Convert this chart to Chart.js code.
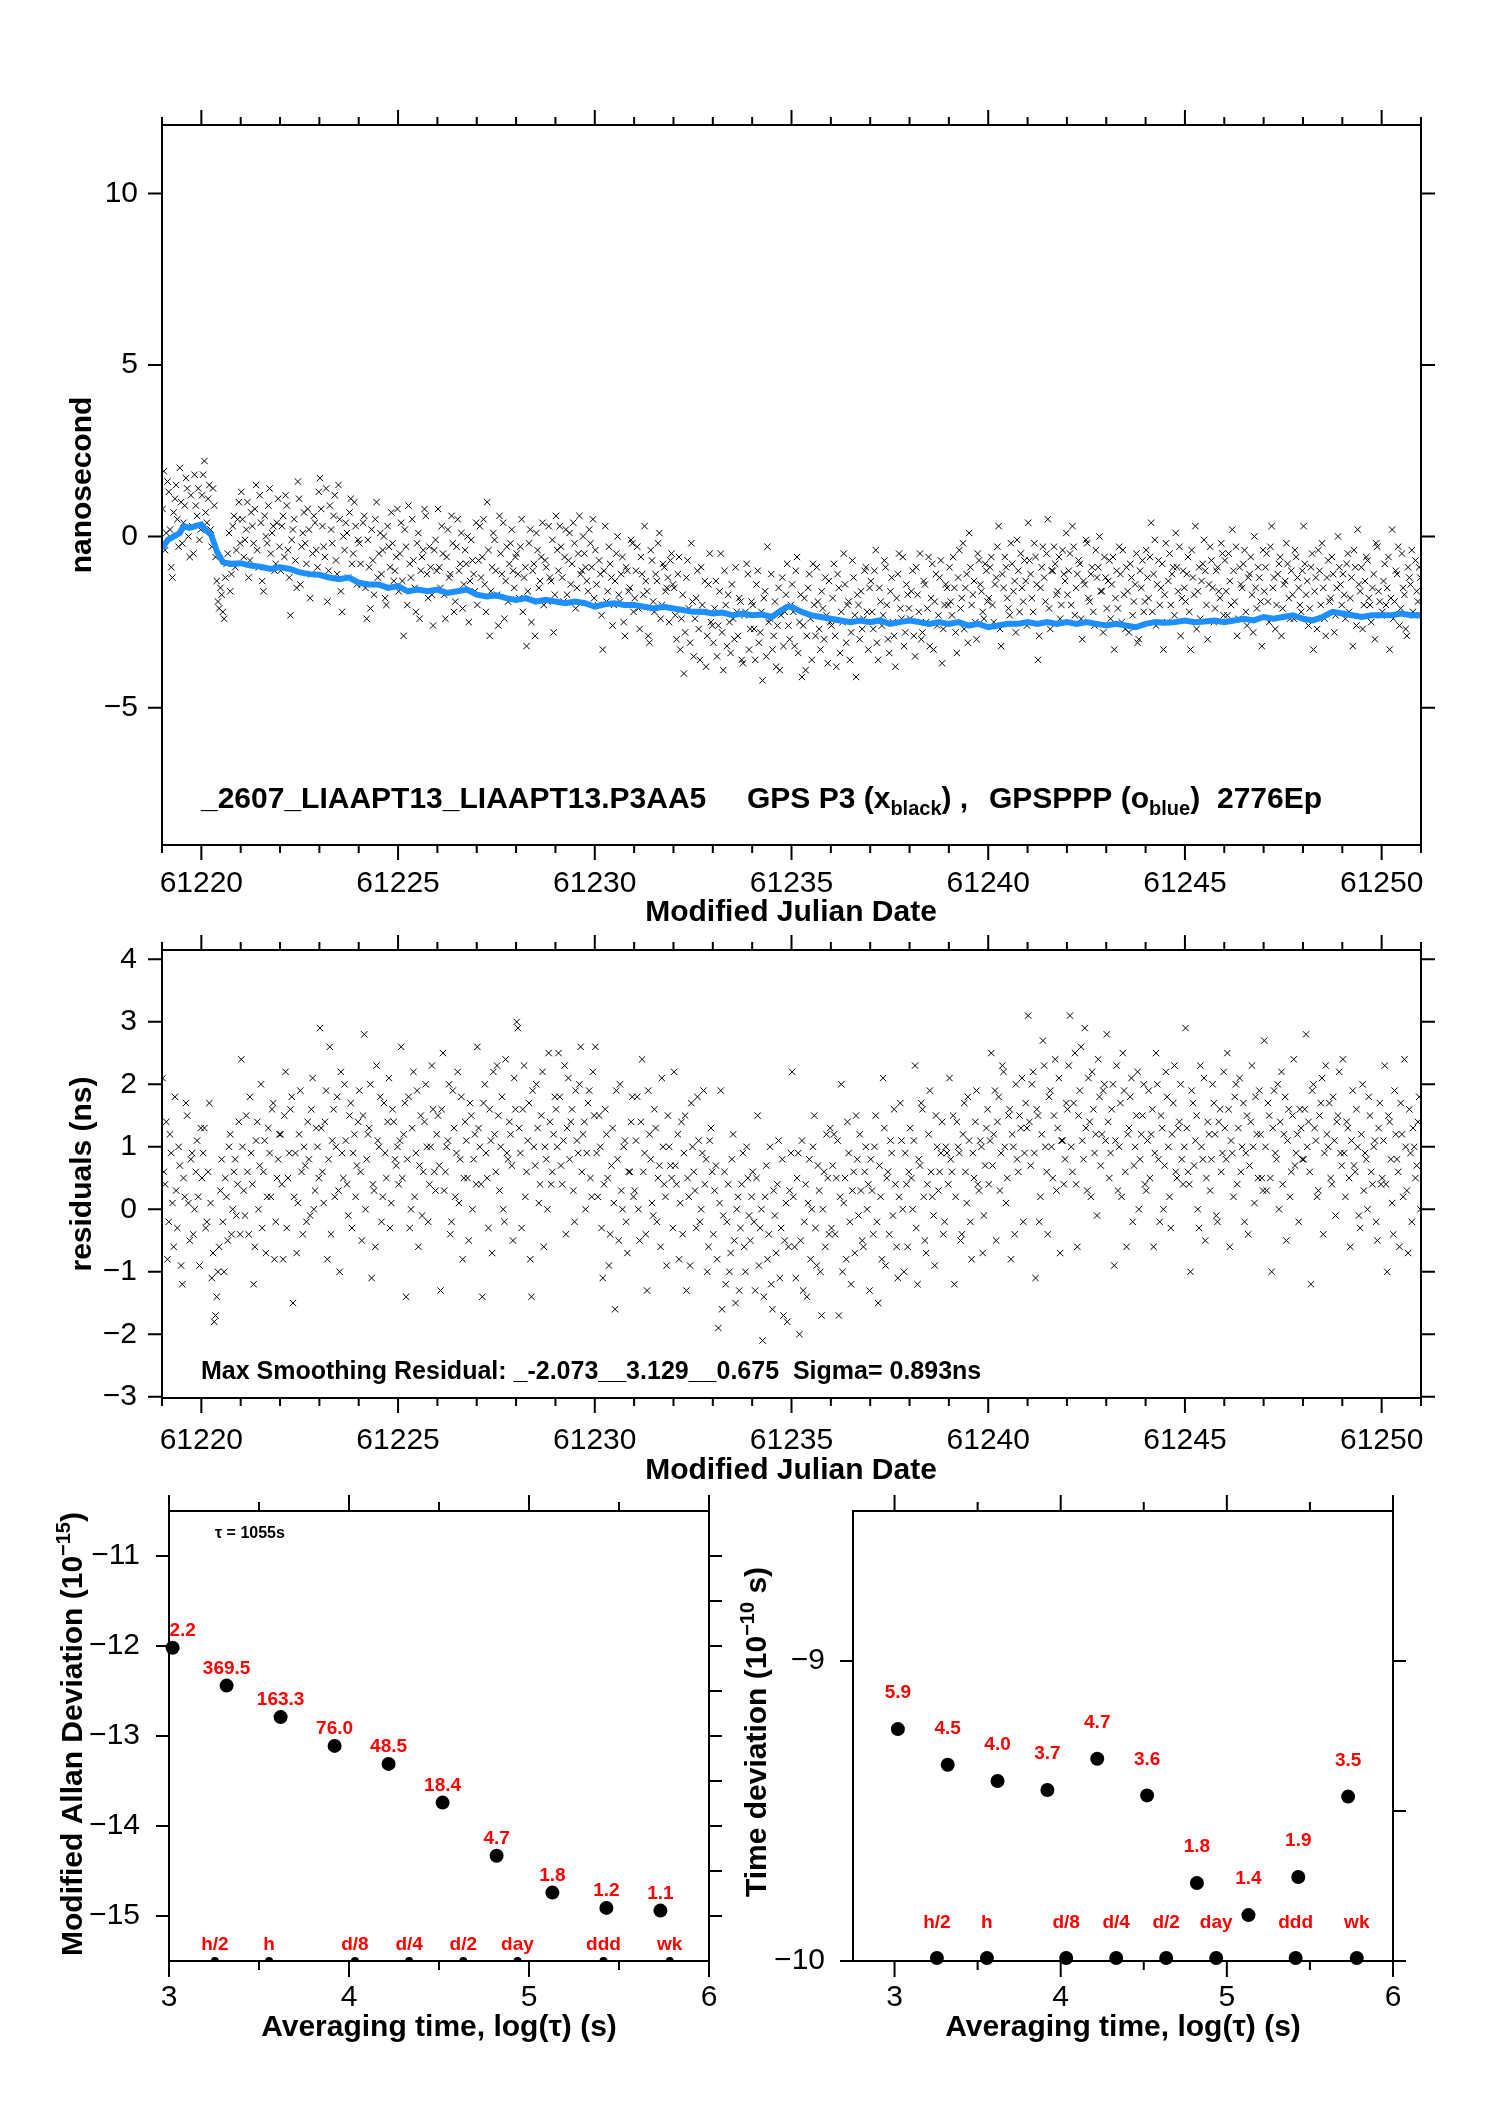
<!DOCTYPE html>
<html>
<head>
<meta charset="utf-8">
<title>GPS P3 vs GPSPPP</title>
<script src="https://cdn.jsdelivr.net/npm/chart.js@4.4.1/dist/chart.umd.min.js"></script>
<style>
  body { margin: 0; background: #fff; width: 1488px; height: 2105px; position: relative; overflow: hidden; }
  canvas { position: absolute; }
</style>
</head>
<body>
<canvas id="top"></canvas>
<canvas id="resid"></canvas>
<canvas id="adev"></canvas>
<canvas id="tdev"></canvas>
<script>
// ---- data ----
const mjdStart = 61219;
const perDay = 32; // epochs kept per day (sub-sample of the 2776 epochs)

// GPS P3 (black x), ns, one row per day from 61219
const gpsP3 = [
  0.8,1.9,-0.4,0.1,1.6,1.3,0.2,-0.9,-1.2,0.7,1.1,1.5,0.5,-0.3,2.0,1.0,-0.2,0.4,0.9,1.7,1.4,0.0,-0.6,1.2,0.3,-0.5,1.8,0.9,0.6,1.4,-0.1,0.2,
  1.2,1.8,2.2,0.7,0.4,1.1,1.5,0.2,-0.3,1.4,0.9,-0.6,-1.3,-1.9,-2.1,-1.5,-1.7,-2.2,-2.4,-1.2,-0.8,-0.5,0.1,-1.6,-1.1,0.3,0.6,-0.9,-0.4,0.5,1.0,-0.2,
  1.3,0.5,-0.6,-0.1,0.2,1.0,-1.2,-0.7,0.7,0.3,-0.2,0.8,1.5,-0.4,-0.9,1.2,0.4,-1.3,-1.6,0.6,0.0,-0.2,0.9,1.4,-0.5,0.1,0.3,-1.0,-0.8,0.4,1.1,-0.3,
  -1.0,0.3,0.6,-0.6,1.2,0.9,-0.4,-1.2,-2.3,-0.1,0.2,0.5,-0.7,-1.5,1.6,1.1,-1.4,-0.3,0.1,0.7,-0.2,-0.8,0.8,0.2,-1.8,-1.1,-0.5,0.6,0.4,-0.4,-0.9,1.3,
  1.7,0.8,0.3,-0.3,-0.6,1.4,-1.9,-1.0,0.9,0.2,-0.2,0.6,1.2,-0.7,-1.1,1.5,0.5,-1.6,-2.2,0.0,-0.4,0.4,0.1,-1.2,0.7,1.1,-0.8,-0.5,1.0,0.3,-1.4,-0.1,
  -0.2,-0.8,-1.4,0.4,0.6,-1.5,-2.4,-0.1,-0.9,-2.1,0.2,-0.7,-1.7,0.5,1.0,-1.2,-0.5,0.1,-1.1,-0.4,0.0,-1.8,-2.0,0.3,-0.3,-0.9,0.7,-0.2,-1.3,-1.0,-0.6,0.8,
  -1.6,-0.5,0.4,-1.3,-2.9,0.2,-0.3,-2.0,0.9,-0.8,-1.2,0.5,-0.7,-1.5,-2.2,-0.2,0.1,-2.4,-1.0,-0.6,-0.4,0.8,0.6,-1.1,-1.8,-0.3,-0.9,-1.7,-2.6,-0.4,-0.1,-1.0,
  0.8,-0.9,-1.5,0.3,-0.5,-1.7,-2.4,-0.6,0.2,-1.2,-1.1,0.6,-0.2,-2.2,-1.9,-0.3,0.5,-1.0,-0.8,0.1,-2.1,-1.4,-0.4,-0.8,0.0,-2.5,-1.3,-0.1,-0.7,-1.1,-1.6,0.4,
  -2.0,-0.7,0.3,-1.2,-0.6,0.5,-1.4,-2.2,1.0,-0.4,-2.9,-1.6,-0.9,0.1,-0.1,-1.0,-1.7,-2.6,0.6,-0.5,-1.1,0.4,-2.4,-1.3,-0.3,-1.9,-0.8,-0.2,0.2,-1.0,-1.5,-0.6,
  -0.5,-1.1,-1.8,-0.3,0.5,-2.2,-1.2,-0.9,-3.2,-1.6,-0.2,0.2,-2.5,-1.0,-0.8,-2.9,0.1,-0.4,-1.5,-1.3,-0.6,0.4,-2.0,-0.7,-0.9,-1.9,0.3,-1.2,-1.3,-0.1,-2.8,-1.7,
  0.6,-0.4,-1.0,0.3,-0.3,-1.2,-1.9,-0.6,0.2,-1.7,-0.7,0.1,-1.4,-0.8,0.4,-0.2,-2.1,-1.5,-0.5,0.6,-1.1,-1.0,0.0,-0.5,-0.9,-1.3,-1.6,0.2,-0.2,-0.9,0.5,-1.8,
  -0.4,-1.4,-2.0,-0.7,-1.1,-2.3,-3.3,-1.0,0.3,-1.9,-1.6,-0.3,-0.8,-1.2,-2.6,-2.0,-1.3,-0.5,0.0,-1.7,-1.9,-1.1,-0.6,-2.5,-2.9,-0.9,-1.0,-1.6,-1.5,-0.1,-0.2,-2.2,
  -1.8,-1.0,-0.3,-2.1,-2.7,-0.6,-1.1,-1.7,0.3,-1.3,-1.6,-2.9,-3.1,-0.4,-0.7,-1.9,-2.2,-1.1,-1.3,-0.2,0.1,-2.4,-2.0,-0.8,-0.9,-1.6,-1.5,-1.2,-2.5,-0.7,-0.5,-1.4,
  -1.5,-2.3,-3.0,-1.1,-0.6,-3.3,-2.4,-1.7,-4.0,-2.8,-1.2,-0.7,-2.1,-3.1,-0.2,-1.9,-3.5,-2.4,-1.8,-1.0,-2.7,-3.6,-0.9,-2.0,-2.2,-1.3,-3.8,-2.9,-1.4,-0.5,-2.5,-2.6,
  -3.1,-2.1,-1.3,-3.5,-2.6,-1.6,-0.5,-2.8,-3.9,-1.0,-2.0,-3.2,-1.7,-2.5,-3.4,-1.4,-2.4,-3.0,-0.9,-2.2,-2.9,-1.8,-1.9,-3.6,-3.7,-2.3,-2.2,-0.8,-1.1,-3.3,-2.7,-1.9,
  -2.0,-2.7,-3.6,-1.4,-1.0,-3.1,-2.8,-2.2,-4.2,-1.8,-1.6,-3.5,-0.3,-2.5,-2.4,-1.1,-3.3,-2.9,-1.9,-3.8,-2.6,-1.5,-3.9,-2.3,-1.2,-3.2,-2.2,-1.7,-0.8,-2.6,-3.0,-2.0,
  -1.4,-2.2,-3.2,-1.0,-0.6,-3.4,-2.5,-1.7,-4.1,-2.6,-1.8,-3.9,-2.9,-1.5,-1.1,-2.4,-3.6,-0.8,-2.0,-2.9,-0.9,-1.9,-2.7,-3.3,-1.6,-2.1,-3.0,-1.2,-2.3,-3.7,-1.3,-2.5,
  -2.6,-1.8,-0.8,-2.9,-3.8,-1.1,-1.5,-3.4,-2.2,-2.5,-0.5,-1.4,-3.1,-2.0,-1.9,-3.6,-2.8,-0.7,-1.2,-2.3,-4.1,-1.7,-2.0,-3.0,-1.6,-2.7,-2.4,-1.0,-0.9,-2.2,-3.3,-1.5,
  -1.3,-2.2,-2.7,-1.0,-0.4,-3.1,-3.6,-1.5,-1.9,-2.6,-2.3,-0.7,-0.9,-2.0,-3.0,-3.4,-1.6,-1.2,-2.5,-2.9,-3.8,-1.8,-1.1,-0.5,-2.1,-2.4,-0.6,-3.2,-2.8,-1.4,-1.7,-2.1,
  -2.4,-1.6,-1.0,-2.9,-3.5,-0.9,-1.7,-2.2,-0.5,-3.0,-2.8,-1.3,-1.4,-2.5,-2.1,-0.6,-3.2,-1.8,-0.8,-3.3,-1.9,-1.1,-2.6,-2.3,-1.2,-0.7,-3.7,-2.7,-2.0,-1.4,-1.5,-2.0,
  -0.9,-1.9,-2.3,-0.6,-1.5,-2.8,-3.4,-1.2,-0.4,-2.1,-1.8,-0.2,-2.7,-1.5,-1.1,-3.1,0.1,-0.9,-2.0,-1.7,-1.3,-2.5,-3.0,-0.5,-0.7,-1.4,-1.6,-2.2,-2.4,-0.8,-1.0,-1.9,
  -1.8,-0.9,-0.6,-2.0,-2.5,-1.4,-1.2,-0.3,0.3,-2.7,-3.2,-1.1,-1.5,-0.6,-0.9,-1.8,-2.1,-2.3,-0.2,-0.8,-1.6,-1.3,-2.8,-0.1,-1.0,-2.2,-0.5,-1.5,-1.9,-0.7,-1.3,-2.6,
  0.4,-0.7,-1.1,-1.8,-2.2,-0.2,-0.6,-1.4,-3.6,-2.9,-1.5,-0.9,-0.3,-1.2,-1.9,-0.5,0.5,-2.1,-2.7,-1.0,-1.0,-0.3,-0.8,-1.7,-1.6,-0.6,-2.4,-2.0,-0.4,-1.1,-1.3,0.1,
  -1.7,-1.0,-0.5,-2.0,0.3,-0.3,-2.3,-1.5,-1.1,-0.7,-0.8,-2.4,-3.0,-1.3,-1.4,-0.1,-0.2,-1.8,-1.9,-1.1,-0.9,-2.2,-2.6,-0.4,-1.2,-0.9,0.0,-1.6,-1.6,-2.8,-0.6,-1.2,
  -2.1,-1.3,-0.7,-2.4,-1.4,-0.6,-3.3,-1.8,-1.0,-2.1,-0.3,-1.1,-2.5,-0.4,-1.7,-2.7,-0.9,-1.6,-2.8,-0.8,-1.2,-2.3,-1.9,-1.4,-0.5,-3.1,-3.0,-1.0,-1.5,-0.7,-2.2,-1.9,
  -0.4,-1.2,-1.8,-0.6,0.4,-2.2,-1.1,-0.1,-2.6,-1.4,-0.7,-2.0,-1.5,-0.8,-3.3,-1.7,-0.2,-2.5,-1.3,-0.5,-2.0,-1.1,-0.9,-2.3,0.1,-0.9,-1.6,-0.3,-2.9,-1.8,-1.0,-1.5,
  -1.9,-1.1,-0.6,-2.2,-3.3,-0.4,-1.2,-1.7,0.3,-2.7,-1.6,-0.9,-2.4,-1.3,-0.8,-0.1,-1.0,-2.0,-3.0,-1.4,-0.3,-0.7,-1.5,-2.5,-2.1,-1.0,-0.9,-1.6,-1.8,-0.2,-0.5,-2.3,
  -0.7,-1.6,-2.3,-0.5,-1.3,-2.0,0.2,-1.0,-1.9,-0.3,-2.9,-2.4,-0.9,-1.4,-1.5,-0.8,-0.4,-2.2,-2.6,-1.2,-1.1,-0.6,-1.7,-2.8,0.0,-1.5,-2.1,-0.9,-1.2,-1.9,-3.2,-0.4,
  -1.6,-0.9,-0.5,-1.9,-2.5,-0.3,0.3,-1.5,-1.2,-2.7,-2.0,-1.1,-0.8,-0.6,-2.9,-2.1,-1.4,-1.3,-0.2,-0.8,-1.8,-2.4,-1.0,-1.7,-2.4,-0.4,-0.6,-1.2,-1.5,-2.0,-2.2,-1.0,
  0.3,-0.8,-1.7,-1.3,-2.6,-2.1,-0.9,-0.5,-3.3,-1.6,-1.2,-2.7,-0.4,-1.0,-2.0,-0.2,-1.5,-2.4,-2.9,-1.2,-0.7,-1.9,-1.8,-0.6,-1.1,-2.8,-2.3,-1.5,0.0,-0.9,-1.4,-2.0,
  -1.1,-1.7,-2.4,-0.8,-0.5,-2.2,-1.8,-1.2,-3.2,-0.4,-0.9,-2.6,0.2,-1.4,-1.6,-0.9,-2.7,-2.0,-1.3,-0.6,-0.7,-1.8,-2.0,-2.5,-1.5,-1.1,-3.0,-0.2,-0.3,-1.6,-1.9,-2.3,
  -2.2,-1.3,-0.8,-2.0,-1.5,-0.6,-3.3,-1.8,0.2,-2.4,-1.9,-1.0,-1.1,-0.3,-2.6,-2.1,-0.5,-1.5,-1.7,-2.7,-2.9,-0.9,-1.2,-1.4,-0.4,-2.2,-2.3,-0.7,-1.6,-1.9,-0.9,-1.2
];

// GPSPPP (blue) curve
const pppMjd = [
  61219.0,61219.15,61219.3,61219.45,61219.55,61219.7,61219.85,61220.0,61220.1,61220.25,61220.4,61220.55,61220.75,
  61221.0,61221.25,61221.5,61221.75,61222.0,61222.25,61222.5,61222.75,61223.0,61223.25,61223.5,61223.75,
  61224.0,61224.25,61224.5,61224.75,61225.0,61225.25,61225.5,61225.75,61226.0,61226.25,61226.5,61226.75,
  61227.0,61227.25,61227.5,61227.75,61228.0,61228.25,61228.5,61228.75,61229.0,61229.25,61229.5,61229.75,
  61230.0,61230.25,61230.5,61230.75,61231.0,61231.25,61231.5,61231.75,61232.0,61232.25,61232.5,61232.75,
  61233.0,61233.25,61233.5,61233.75,61234.0,61234.25,61234.5,61234.75,61234.9,61235.0,61235.25,61235.5,61235.75,
  61236.0,61236.25,61236.5,61236.75,61237.0,61237.25,61237.5,61237.75,61238.0,61238.25,61238.5,61238.75,
  61239.0,61239.25,61239.5,61239.75,61240.0,61240.25,61240.5,61240.75,61241.0,61241.25,61241.5,61241.75,
  61242.0,61242.25,61242.5,61242.75,61243.0,61243.25,61243.5,61243.75,61244.0,61244.25,61244.5,61244.75,
  61245.0,61245.25,61245.5,61245.75,61246.0,61246.25,61246.5,61246.75,61247.0,61247.25,61247.5,61247.75,
  61248.0,61248.25,61248.5,61248.75,61249.0,61249.25,61249.5,61249.75,61250.0,61250.25,61250.5,61250.75,61251.0
];
const pppNs = [
  -0.35,-0.1,0.0,0.1,0.3,0.25,0.3,0.35,0.2,0.05,-0.45,-0.75,-0.8,
  -0.78,-0.85,-0.88,-0.95,-0.9,-0.95,-1.05,-1.1,-1.12,-1.2,-1.25,-1.2,
  -1.35,-1.4,-1.4,-1.5,-1.45,-1.6,-1.55,-1.6,-1.55,-1.65,-1.6,-1.55,
  -1.7,-1.75,-1.72,-1.8,-1.85,-1.8,-1.9,-1.85,-1.9,-1.95,-1.9,-1.95,
  -2.05,-1.98,-1.95,-2.0,-2.0,-2.05,-2.1,-2.05,-2.1,-2.15,-2.2,-2.2,
  -2.25,-2.22,-2.3,-2.25,-2.3,-2.28,-2.35,-2.15,-2.05,-2.05,-2.2,-2.3,-2.35,
  -2.4,-2.45,-2.5,-2.45,-2.5,-2.45,-2.55,-2.5,-2.45,-2.5,-2.55,-2.5,
  -2.55,-2.5,-2.6,-2.55,-2.65,-2.6,-2.55,-2.55,-2.5,-2.55,-2.5,-2.55,
  -2.5,-2.55,-2.5,-2.55,-2.6,-2.55,-2.6,-2.65,-2.55,-2.5,-2.52,-2.5,
  -2.45,-2.5,-2.48,-2.45,-2.5,-2.45,-2.4,-2.45,-2.35,-2.4,-2.35,-2.3,
  -2.4,-2.45,-2.35,-2.2,-2.25,-2.3,-2.35,-2.3,-2.3,-2.3,-2.25,-2.3,-2.3
];

// smoothing residuals, ns, one row per day from 61219
const residNs = [
  2.1,0.6,0.4,1.4,-0.8,-0.2,1.2,0.9,0.1,-0.6,1.8,0.3,-0.3,1.0,0.7,-0.9,-1.2,0.5,0.2,1.7,1.5,0.1,-0.5,0.8,0.9,-0.4,0.0,0.6,1.1,0.2,-0.9,1.3,
  0.5,0.9,1.3,-0.3,-0.2,0.6,1.7,0.1,-1.1,-0.7,-1.8,-1.7,-1.4,-1.0,-0.6,0.3,0.8,-0.2,-1.0,0.5,0.2,-0.5,1.0,1.2,-0.4,0.0,0.6,0.8,-0.1,0.4,1.4,-0.4,
  2.4,1.0,0.3,-0.1,1.5,0.6,-0.4,1.8,0.9,0.4,-1.2,-0.6,1.1,1.4,0.0,0.7,2.0,-0.3,0.6,1.1,-0.7,0.2,1.3,0.9,0.2,1.6,1.7,-0.8,-0.2,0.5,0.8,1.2,
  1.2,0.4,-0.8,1.5,2.2,-0.3,0.5,0.9,1.6,1.8,-1.5,0.2,0.9,-0.7,0.1,1.2,1.9,0.6,-0.4,1.0,0.7,-0.2,1.4,0.8,-0.1,1.6,2.1,0.0,0.3,1.3,1.0,0.5,
  2.9,1.3,0.6,0.1,1.4,1.9,-0.8,0.8,2.6,-0.4,1.1,1.6,0.2,1.0,1.8,0.3,-1.0,2.2,0.9,0.5,2.0,1.1,0.4,-0.1,1.5,1.7,-0.3,0.9,1.2,0.2,0.7,1.4,
  1.9,0.6,-0.5,1.5,2.8,0.0,0.8,1.2,1.3,2.0,-1.1,0.4,0.3,-0.6,2.3,1.1,1.0,1.8,-0.2,0.2,1.7,0.9,0.5,1.4,2.1,-0.3,0.1,1.6,1.4,0.8,0.7,1.0,
  0.4,1.1,2.6,0.5,1.2,1.7,-1.4,0.8,1.8,-0.3,0.0,1.3,2.2,0.2,0.9,1.9,-0.6,0.7,1.5,-0.1,0.6,1.4,2.0,1.0,-0.2,0.4,1.0,2.3,1.6,0.6,0.3,1.2,
  1.5,0.7,-1.3,1.6,2.5,0.3,0.6,1.0,1.1,2.0,-0.4,-0.2,1.9,1.3,0.2,0.9,2.2,0.1,0.8,1.8,-0.8,0.5,1.4,1.1,0.5,-0.5,1.7,1.5,0.0,0.8,1.2,0.4,
  2.6,1.3,1.0,0.4,-1.4,1.7,2.0,0.9,0.5,-0.3,1.6,1.1,-0.7,2.2,1.2,0.6,2.3,1.5,0.3,1.0,1.8,0.0,-0.2,2.4,0.9,0.8,1.4,1.2,0.7,-0.5,2.1,1.6,
  3.0,2.9,1.3,0.9,-0.3,1.6,2.3,0.2,0.6,1.1,1.7,-0.8,-1.4,1.9,1.0,0.7,2.0,1.3,0.1,0.4,1.5,2.2,-0.6,1.0,0.8,0.0,2.5,1.4,0.4,0.6,1.2,1.8,
  1.6,1.0,2.5,1.8,0.7,0.4,1.1,2.3,-0.4,1.3,2.1,0.8,1.4,1.6,0.3,-0.2,1.9,1.1,0.9,2.0,2.6,0.6,1.2,1.4,0.0,0.9,1.7,1.9,0.5,0.2,2.2,1.5,
  2.6,0.9,0.2,1.5,1.0,-0.3,-1.1,0.4,1.6,1.2,0.5,-0.9,-0.4,0.7,1.3,0.1,-1.6,1.9,0.8,-0.5,2.0,0.3,0.0,1.0,1.1,-0.2,-0.7,0.6,0.6,1.4,1.8,0.2,
  0.3,1.1,1.8,0.0,-0.5,1.4,2.4,0.6,0.9,-0.4,-1.3,1.9,1.2,0.8,0.1,-0.1,1.6,1.3,-0.2,0.5,0.7,-0.6,2.1,1.0,0.4,0.2,-0.9,1.5,1.0,0.7,0.5,-0.3,
  2.2,0.7,0.4,1.2,-0.8,0.1,1.4,-0.4,0.9,1.5,-1.3,0.5,0.2,-0.9,1.7,1.0,0.6,0.3,-0.3,1.8,1.1,-0.2,0.0,0.9,1.9,0.4,0.8,-1.0,-0.6,1.1,1.3,0.6,
  -0.4,0.3,0.7,-0.8,-1.9,0.1,1.9,-1.6,-0.1,0.6,-1.2,-0.2,0.4,-1.0,-0.7,0.8,1.2,-0.5,-1.5,0.0,0.2,-1.3,-0.3,0.4,0.9,-0.6,-1.0,1.0,0.5,-0.1,-0.5,0.2,
  0.6,-0.2,-1.3,0.5,1.5,-0.9,-0.3,0.0,-2.1,-1.4,0.2,0.7,-0.8,-0.4,1.0,-1.2,-1.6,0.3,-0.1,-0.7,0.4,1.1,-1.1,-0.3,0.8,-1.7,-0.5,0.1,-1.8,-0.6,0.3,0.9,
  2.2,0.2,-0.6,-1.1,0.5,0.9,-2.0,-0.5,1.1,-1.3,-0.2,0.4,-1.4,0.1,0.8,-0.8,0.0,1.0,1.5,-0.3,-0.9,0.7,0.3,-1.0,-1.7,0.0,0.6,-0.6,1.2,0.5,-0.4,1.3,
  -0.3,0.7,1.2,-0.4,0.5,1.1,-1.7,0.2,2.0,-1.0,0.1,0.5,-0.8,1.4,0.9,-0.2,-1.2,0.3,0.6,-0.7,1.5,0.8,-0.1,1.2,0.3,-0.5,-0.6,0.6,1.0,0.0,0.4,-1.3,
  0.8,0.3,-0.4,1.0,1.5,-0.2,-1.5,0.7,0.2,-0.8,2.1,1.3,-0.9,0.5,0.6,-0.4,1.1,0.9,-0.1,1.6,0.4,-0.6,-1.1,0.2,1.7,1.1,0.0,-1.0,0.9,0.4,-0.6,0.6,
  1.3,0.5,0.0,1.1,2.3,-0.3,-1.2,0.8,0.7,1.7,1.6,0.2,-0.5,-0.7,0.4,1.2,1.9,0.6,0.2,-0.1,-0.9,1.5,1.0,0.3,0.6,0.9,1.4,-0.4,-0.2,1.0,0.9,0.4,
  2.1,0.8,0.6,1.5,-1.2,0.2,1.4,1.0,0.9,-0.5,-0.4,1.2,1.7,0.6,0.1,1.8,1.1,-0.2,-0.8,0.9,0.5,1.4,1.9,0.4,0.3,1.1,1.0,-0.7,-0.1,0.7,1.3,1.6,
  0.4,1.1,2.5,0.7,1.2,1.9,-0.5,1.4,1.8,0.3,0.9,2.3,2.2,1.0,0.1,0.5,1.5,1.6,-0.8,1.2,1.0,-0.4,2.0,0.8,0.6,1.5,1.3,2.1,-0.2,0.9,1.7,1.3,
  3.1,1.4,0.7,2.0,2.2,0.9,-1.1,1.6,1.5,-0.2,0.2,1.2,2.7,2.3,1.0,0.6,-0.4,1.8,1.9,1.0,0.5,1.5,2.4,0.3,1.3,2.1,-0.7,1.1,1.1,0.4,0.8,1.7,
  1.6,2.3,3.1,1.0,0.6,1.7,2.5,0.4,-0.6,1.5,1.9,2.6,1.1,0.8,2.9,1.3,0.3,2.1,1.4,0.2,2.2,1.6,0.9,1.2,-0.1,2.4,1.8,0.7,1.2,1.9,2.0,1.1,
  2.8,1.4,0.5,0.9,1.6,2.0,-0.9,1.1,2.3,0.3,1.0,1.7,0.2,2.5,1.9,0.6,-0.6,1.2,1.3,1.8,2.1,-0.2,0.7,1.0,1.5,2.2,0.0,0.8,1.2,1.5,2.0,0.4,
  0.3,1.1,1.9,0.5,1.2,1.6,-0.6,0.9,2.5,2.0,0.8,-0.2,1.5,1.3,0.0,0.7,2.2,1.8,1.0,0.2,-0.3,1.2,1.7,2.3,0.6,0.5,1.3,1.4,2.0,0.8,0.4,1.0,
  2.9,1.3,0.6,0.4,-1.0,1.9,1.7,0.7,1.1,1.5,0.0,-0.3,2.3,1.0,0.8,2.1,-0.5,0.5,1.4,1.2,0.3,0.8,2.0,1.7,1.2,-0.1,-0.2,1.4,1.6,0.6,0.9,2.2,
  1.3,0.8,2.5,1.6,-0.6,1.1,0.9,0.2,1.8,2.0,0.4,1.3,2.1,0.6,1.0,1.7,-0.2,0.9,1.5,-0.4,0.7,1.4,2.3,1.0,0.1,1.8,1.2,0.5,1.9,1.2,0.5,0.3,
  2.7,1.0,0.3,1.7,1.5,0.5,-1.0,1.3,1.9,0.9,0.8,2.0,0.0,1.4,2.2,0.4,1.2,1.8,-0.5,1.1,1.6,0.2,0.6,1.5,2.4,0.7,0.9,1.2,-0.2,1.6,1.3,0.8,
  0.8,1.6,2.8,1.0,1.4,0.6,-1.2,1.9,2.0,1.3,1.1,0.2,0.3,1.5,1.7,2.1,-0.4,0.9,2.3,1.2,1.0,1.7,0.5,0.4,1.8,1.1,-0.1,1.4,1.5,2.2,0.9,0.7,
  2.4,0.9,0.2,1.4,1.3,0.5,-0.6,1.1,1.9,0.7,0.6,1.6,1.0,-0.1,-0.3,1.2,2.0,0.3,0.9,0.8,0.0,1.8,1.5,0.6,0.4,1.0,1.1,-0.2,-0.5,1.3,1.7,0.4,
  0.5,1.1,2.3,0.4,-1.0,1.5,1.4,0.8,0.1,-0.4,1.9,1.2,0.8,0.6,-0.6,1.7,1.2,0.2,2.4,1.0,0.3,-0.7,1.6,0.9,-0.2,1.3,1.0,0.5,0.7,1.4,1.8,0.0
];

// stability panels: log10(tau) and values
const logTau = [3.02, 3.32, 3.62, 3.92, 4.22, 4.52, 4.82, 5.13, 5.43, 5.73];
const modAdev = [-12.02, -12.44, -12.79, -13.11, -13.31, -13.74, -14.33, -14.74, -14.91, -14.94];
const modAdevText = ['2.2', '369.5', '163.3', '76.0', '48.5', '18.4', '4.7', '1.8', '1.2', '1.1'];
const tdev = [-9.227, -9.346, -9.40, -9.43, -9.326, -9.448, -9.74, -9.847, -9.72, -9.452];
const tdevText = ['5.9', '4.5', '4.0', '3.7', '4.7', '3.6', '1.8', '1.4', '1.9', '3.5'];

// reference averaging times (log10 s)
const markTau = [3.255, 3.556, 4.033, 4.334, 4.635, 4.936, 5.414, 5.782];
const markNames = ['h/2', 'h', 'd/8', 'd/4', 'd/2', 'day', 'ddd', 'wk'];

// tick labels
const mjdTicks = [61220, 61225, 61230, 61235, 61240, 61245, 61250];
const nsTicks = [-5, 0, 5, 10];
const residTicks = [-3, -2, -1, 0, 1, 2, 3, 4];
const tauTicks = [3, 4, 5, 6];
const adevTicks = [-15, -14, -13, -12, -11];
const tdevTicks = [-10, -9];

// ---- drawing ----
const FAM = '"Liberation Sans", Arial, Helvetica, sans-serif';
Chart.defaults.font.family = FAM;
Chart.defaults.color = '#000';

const minus = v => (v < 0 ? '\u2212' + Math.abs(v) : String(v));

function drawFrame(c, t) {
  const { ctx, chartArea: a, scales: { x, y } } = c;
  ctx.save();
  ctx.strokeStyle = '#000';
  ctx.lineWidth = 2;
  ctx.strokeRect(a.left, a.top, a.right - a.left, a.bottom - a.top);
  ctx.beginPath();
  const xt = (vals, len) => vals.forEach(v => {
    const p = x.getPixelForValue(v);
    ctx.moveTo(p, a.bottom); ctx.lineTo(p, a.bottom + len);
    ctx.moveTo(p, a.top); ctx.lineTo(p, a.top - len);
  });
  const yl = (vals, len) => vals.forEach(v => {
    const p = y.getPixelForValue(v);
    ctx.moveTo(a.left, p); ctx.lineTo(a.left - len, p);
  });
  const yr = (vals, len) => vals.forEach(v => {
    const p = y.getPixelForValue(v);
    ctx.moveTo(a.right, p); ctx.lineTo(a.right + len, p);
  });
  xt(t.xMajor, t.xMajLen);
  xt(t.xMinor, t.xMinLen);
  yl(t.yLeft, t.yLen);
  yr(t.yRight, t.yLen);
  ctx.stroke();
  ctx.restore();
}

function yTitle(ctx, x, y, main, sup, tail) {
  ctx.save();
  ctx.translate(x, y);
  ctx.rotate(-Math.PI / 2);
  ctx.fillStyle = '#000';
  ctx.textBaseline = 'middle';
  const big = 'bold 30px ' + FAM, small = 'bold 20px ' + FAM;
  ctx.font = big;
  const w1 = ctx.measureText(main).width;
  const w3 = tail ? ctx.measureText(tail).width : 0;
  ctx.font = small;
  const w2 = sup ? ctx.measureText(sup).width : 0;
  let px = -(w1 + w2 + w3) / 2;
  ctx.font = big; ctx.textAlign = 'left';
  ctx.fillText(main, px, 0); px += w1;
  if (sup) { ctx.font = small; ctx.fillText(sup, px, -10); px += w2; }
  if (tail) { ctx.font = big; ctx.fillText(tail, px, 0); }
  ctx.restore();
}

function xTitle(ctx, x, y, text) {
  ctx.save();
  ctx.fillStyle = '#000';
  ctx.font = 'bold 30px ' + FAM;
  ctx.textAlign = 'center';
  ctx.textBaseline = 'middle';
  ctx.fillText(text, x, y);
  ctx.restore();
}

function build(id, box, area, o) {
  const cv = document.getElementById(id);
  cv.width = box.w; cv.height = box.h;
  cv.style.left = box.x + 'px'; cv.style.top = box.y + 'px';
  const padTop = area.t - box.y, padRight = box.x + box.w - area.r;
  const yW = area.l - box.x, xH = box.y + box.h - area.b;
  return new Chart(cv, {
    type: 'scatter',
    data: { datasets: o.datasets },
    options: {
      responsive: false,
      animation: false,
      devicePixelRatio: 1,
      layout: { autoPadding: false, padding: { left: 0, top: padTop, right: padRight, bottom: 0 } },
      plugins: { legend: { display: false }, tooltip: { enabled: false } },
      scales: {
        x: {
          type: 'linear', min: o.xMin, max: o.xMax,
          grid: { display: false, drawTicks: false }, border: { display: false },
          ticks: { font: { size: 30 }, color: '#000', padding: o.xPad, maxRotation: 0, autoSkip: false, callback: v => minus(v) },
          afterBuildTicks: s => { s.ticks = o.xTicks.map(v => ({ value: v })); },
          afterFit: s => { s.height = xH; }
        },
        y: {
          type: 'linear', min: o.yMin, max: o.yMax,
          grid: { display: false, drawTicks: false }, border: { display: false },
          ticks: { font: { size: 30 }, color: '#000', padding: o.yPad, callback: v => minus(v) },
          afterBuildTicks: s => { s.ticks = o.yTicks.map(v => ({ value: v })); },
          afterFit: s => { s.width = yW; }
        }
      }
    },
    plugins: [{ id: 'deco', afterDraw: c => o.deco(c, box) }]
  });
}

const dayTicks = [];
for (let d = 61219; d <= 61251; d++) if (d % 5 !== 0) dayTicks.push(d);

// top panel
build('top', { x: 0, y: 40, w: 1488, h: 900 }, { l: 162, t: 125, r: 1421, b: 845 }, {
  xMin: 61219, xMax: 61251, yMin: -9, yMax: 12,
  xTicks: mjdTicks, yTicks: nsTicks, xPad: 21, yPad: 24,
  datasets: [
    {
      label: 'GPSPPP', showLine: true, data: pppMjd.map((m, i) => ({ x: m, y: pppNs[i] })),
      borderColor: '#1e8fff', borderWidth: 6, pointRadius: 0, tension: 0
    },
    {
      label: 'GPS P3', data: gpsP3.map((v, i) => ({ x: mjdStart + (i + 0.5) / perDay, y: v })),
      pointStyle: 'crossRot', pointRadius: 4.5, borderColor: '#000', borderWidth: 1, backgroundColor: '#000'
    }
  ],
  deco: (c, box) => {
    const ctx = c.ctx;
    drawFrame(c, { xMajor: mjdTicks, xMinor: dayTicks, xMajLen: 15, xMinLen: 8, yLeft: nsTicks, yRight: nsTicks, yLen: 14 });
    yTitle(ctx, 83 - box.x, 485 - box.y, 'nanosecond');
    xTitle(ctx, 791 - box.x, 913 - box.y, 'Modified Julian Date');
    ctx.save();
    ctx.fillStyle = '#000';
    ctx.textBaseline = 'middle';
    const big = 'bold 30px ' + FAM, sub = 'bold 20px ' + FAM;
    const yy = 800 - box.y;
    ctx.font = big;
    ctx.fillText('_2607_LIAAPT13_LIAAPT13.P3AA5', 201, yy);
    let px = 747;
    ctx.fillText('GPS P3 (x', px, yy); px += ctx.measureText('GPS P3 (x').width;
    ctx.font = sub; ctx.fillText('black', px, yy + 9); px += ctx.measureText('black').width;
    ctx.font = big; ctx.fillText(') ,', px, yy);
    px = 989;
    ctx.fillText('GPSPPP (o', px, yy); px += ctx.measureText('GPSPPP (o').width;
    ctx.font = sub; ctx.fillText('blue', px, yy + 9); px += ctx.measureText('blue').width;
    ctx.font = big; ctx.fillText(')', px, yy);
    ctx.fillText('2776Ep', 1217, yy);
    ctx.restore();
  }
});

// residual panel (canvas starts higher so the scale's label padding fits above the frame)
build('resid', { x: 0, y: 890, w: 1488, h: 600 }, { l: 162, t: 950, r: 1421, b: 1398 }, {
  xMin: 61219, xMax: 61251, yMin: -3.02, yMax: 4.15,
  xTicks: mjdTicks, yTicks: residTicks, xPad: 25, yPad: 25,
  datasets: [
    {
      label: 'residuals', data: residNs.map((v, i) => ({ x: mjdStart + (i + 0.5) / perDay, y: v })),
      pointStyle: 'crossRot', pointRadius: 4.5, borderColor: '#000', borderWidth: 1, backgroundColor: '#000'
    }
  ],
  deco: (c, box) => {
    const ctx = c.ctx;
    drawFrame(c, { xMajor: mjdTicks, xMinor: dayTicks, xMajLen: 15, xMinLen: 8, yLeft: residTicks, yRight: residTicks, yLen: 14 });
    yTitle(ctx, 83 - box.x, 1174 - box.y, 'residuals (ns)');
    xTitle(ctx, 791 - box.x, 1471 - box.y, 'Modified Julian Date');
    ctx.save();
    ctx.fillStyle = '#000';
    ctx.font = 'bold 25px ' + FAM;
    ctx.textBaseline = 'middle';
    ctx.fillText('Max Smoothing Residual: _-2.073__3.129__0.675  Sigma= 0.893ns', 201, 1372 - box.y);
    ctx.restore();
  }
});

function stabilityLabels(c, valIdx, valText, off, markIdx, markOff) {
  const ctx = c.ctx;
  ctx.save();
  ctx.fillStyle = '#ff0000';
  ctx.font = 'bold 19px ' + FAM;
  ctx.textAlign = 'center';
  ctx.textBaseline = 'middle';
  c.getDatasetMeta(valIdx).data.forEach((p, i) => {
    const dx = i === 0 && off < 20 ? 10 : 0;
    ctx.fillText(valText[i], p.x + dx, p.y - off);
  });
  c.getDatasetMeta(markIdx).data.forEach((p, i) => ctx.fillText(markNames[i], p.x, p.y - markOff));
  ctx.restore();
}

// modified Allan deviation
build('adev', { x: 0, y: 1450, w: 750, h: 655 }, { l: 169, t: 1511, r: 709, b: 1961 }, {
  xMin: 3, xMax: 6, yMin: -15.5, yMax: -10.5,
  xTicks: tauTicks, yTicks: adevTicks, xPad: 19, yPad: 29,
  datasets: [
    {
      label: 'mod adev', data: logTau.map((t, i) => ({ x: t, y: modAdev[i] })),
      pointRadius: 7, backgroundColor: '#000', borderColor: '#000', borderWidth: 0, clip: false
    },
    {
      label: 'marks', data: markTau.map(t => ({ x: t, y: -15.5 })),
      pointRadius: 4, backgroundColor: '#000', borderColor: '#000', borderWidth: 0, clip: 0
    }
  ],
  deco: (c, box) => {
    const ctx = c.ctx;
    drawFrame(c, {
      xMajor: tauTicks, xMinor: [3.5, 4.5, 5.5], xMajLen: 16, xMinLen: 9,
      yLeft: [-15, -14, -13, -12, -11], yRight: [-15, -14.5, -14, -13.5, -13, -12.5, -12, -11.5, -11], yLen: 13
    });
    stabilityLabels(c, 0, modAdevText, 17, 1, 16);
    ctx.save();
    ctx.fillStyle = '#000';
    ctx.font = 'bold 16px ' + FAM;
    ctx.textBaseline = 'middle';
    ctx.fillText('\u03c4 = 1055s', 215 - box.x, 1534 - box.y);
    ctx.restore();
    yTitle(ctx, 74 - box.x, 1734 - box.y, 'Modified Allan Deviation (10', '\u221215', ')');
    xTitle(ctx, 439 - box.x, 2028 - box.y, 'Averaging time, log(\u03c4) (s)');
  }
});

// time deviation
build('tdev', { x: 710, y: 1450, w: 778, h: 655 }, { l: 853, t: 1511, r: 1393, b: 1961 }, {
  xMin: 2.75, xMax: 6.0, yMin: -10, yMax: -8.5,
  xTicks: tauTicks, yTicks: tdevTicks, xPad: 19, yPad: 28,
  datasets: [
    {
      label: 'tdev', data: logTau.map((t, i) => ({ x: t, y: tdev[i] })),
      pointRadius: 7, backgroundColor: '#000', borderColor: '#000', borderWidth: 0, clip: false
    },
    {
      label: 'marks', data: markTau.map(t => ({ x: t, y: -9.99 })),
      pointRadius: 7, backgroundColor: '#000', borderColor: '#000', borderWidth: 0, clip: false
    }
  ],
  deco: (c, box) => {
    const ctx = c.ctx;
    drawFrame(c, {
      xMajor: tauTicks, xMinor: [3.5, 4.5, 5.5], xMajLen: 16, xMinLen: 9,
      yLeft: [-10, -9], yRight: [-10, -9.5, -9], yLen: 13
    });
    stabilityLabels(c, 0, tdevText, 36, 1, 35);
    yTitle(ctx, 758 - box.x, 1732 - box.y, 'Time deviation (10', '\u221210', ' s)');
    xTitle(ctx, 1123 - box.x, 2028 - box.y, 'Averaging time, log(\u03c4) (s)');
  }
});
</script>
</body>
</html>
